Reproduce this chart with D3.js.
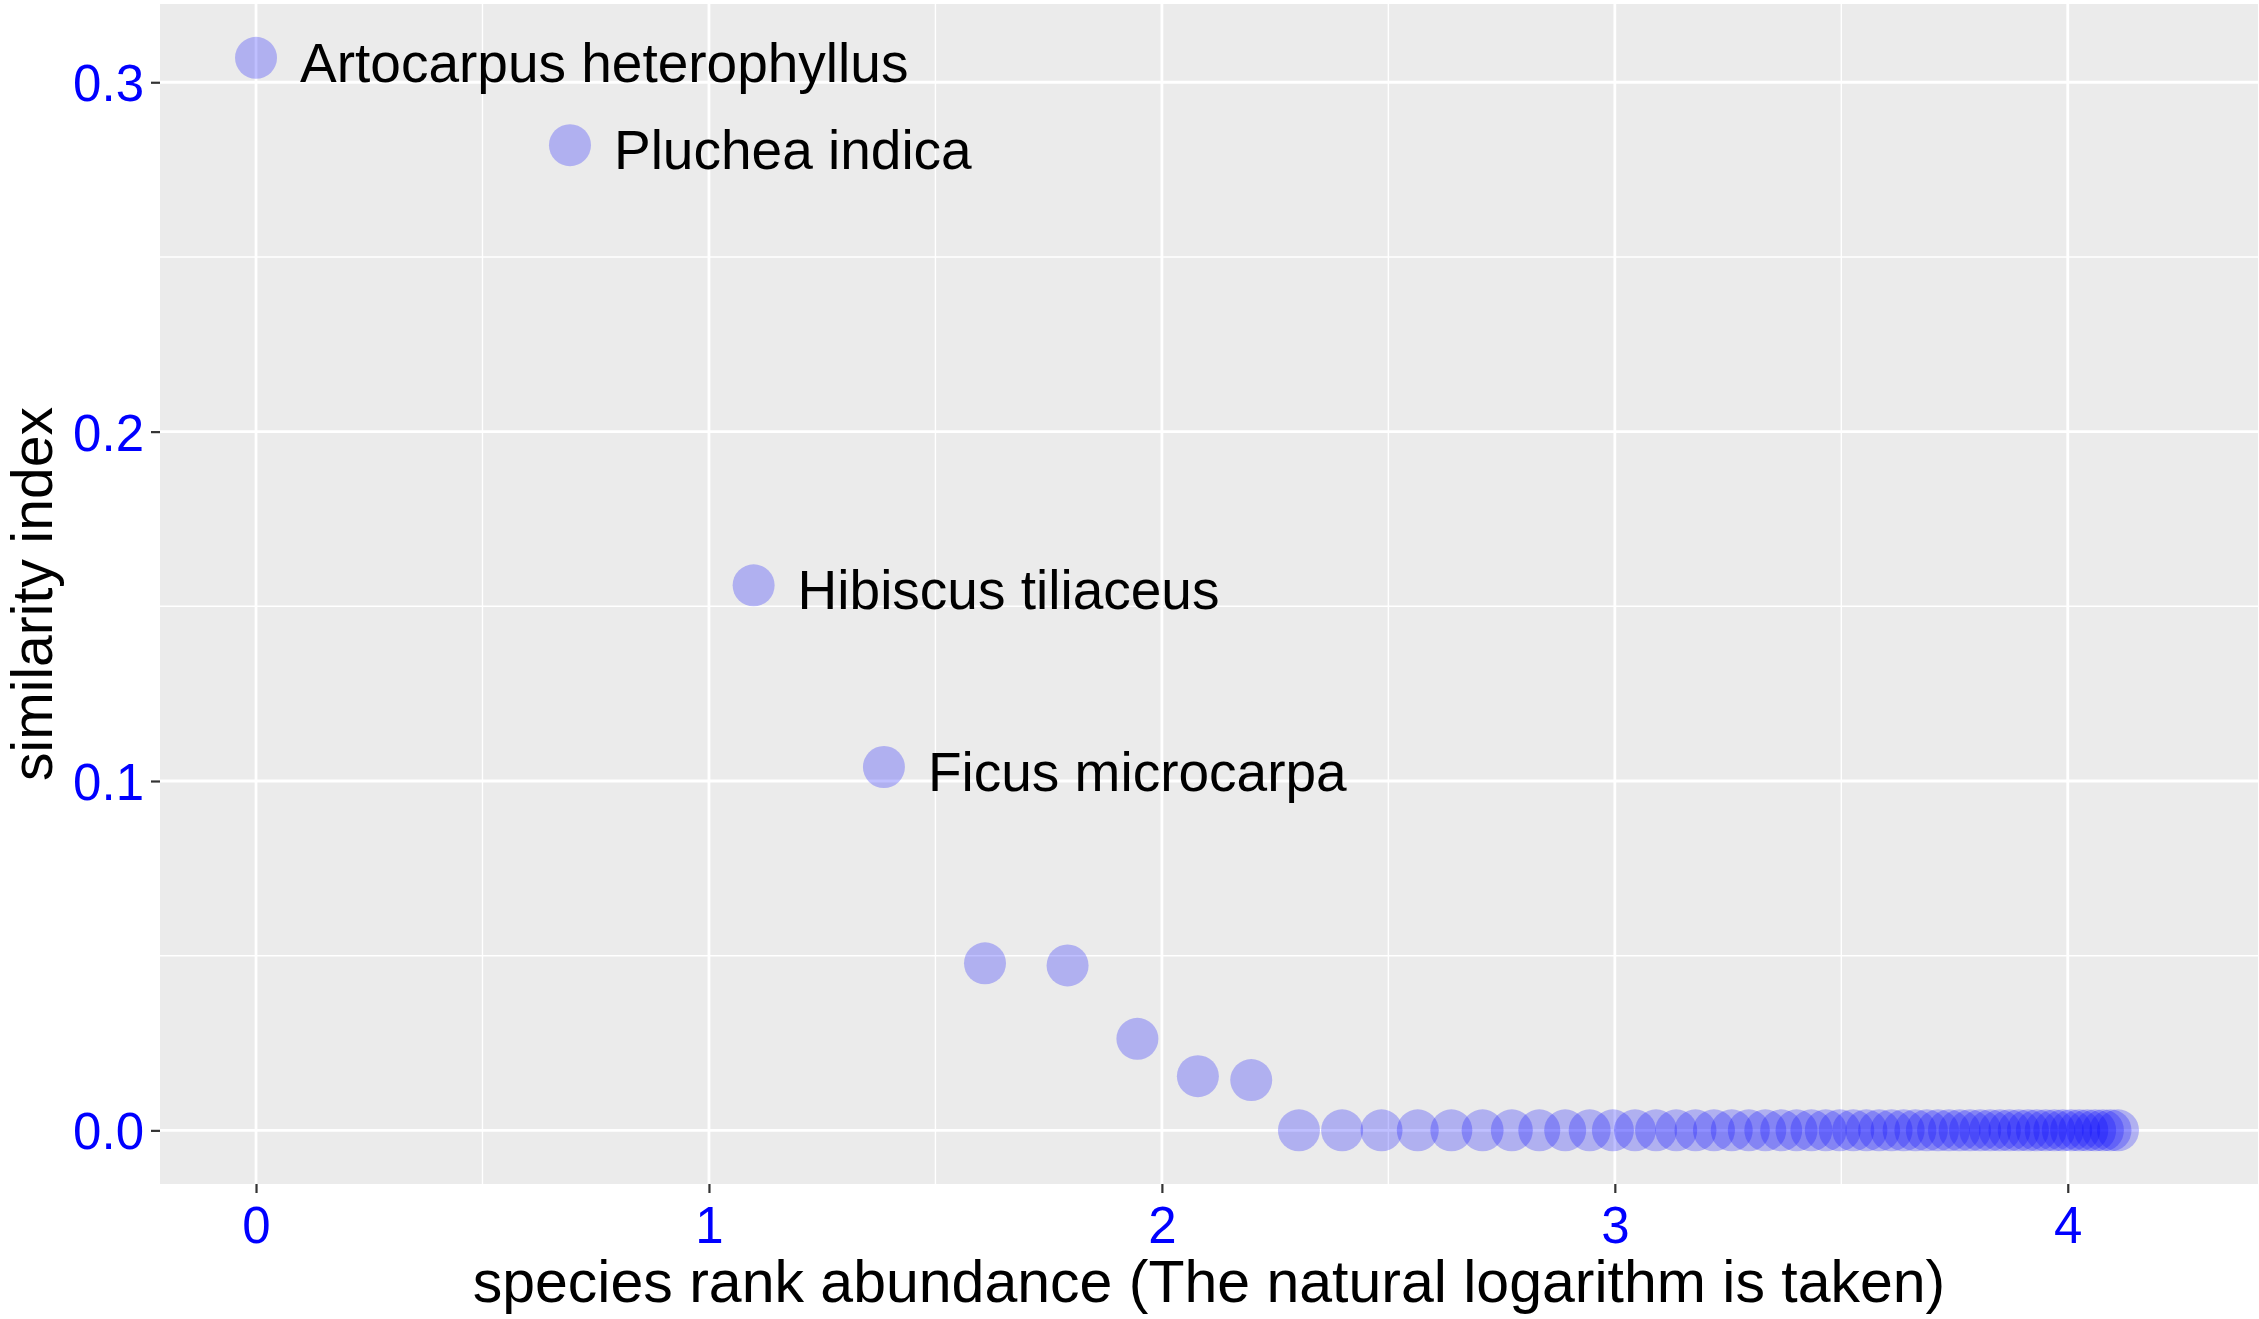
<!DOCTYPE html>
<html>
<head>
<meta charset="utf-8">
<script src="https://cdn.jsdelivr.net/npm/d3@7"></script>
<style>
  body { margin: 0; background: #fff; }
  svg { display: block; font-family: "Liberation Sans", Arial, sans-serif; }
</style>
</head>
<body>
<svg id="chart"></svg>
<script>
// species rank (1 = most abundant) and similarity index
const ranks = [
    1, 2, 3, 4, 5, 6, 7, 8, 9, 10,
    11, 12, 13, 14, 15, 16, 17, 18, 19, 20,
    21, 22, 23, 24, 25, 26, 27, 28, 29, 30,
    31, 32, 33, 34, 35, 36, 37, 38, 39, 40,
    41, 42, 43, 44, 45, 46, 47, 48, 49, 50,
    51, 52, 53, 54, 55, 56, 57, 58, 59, 60, 61
];
const similarity = [
    0.307, 0.282, 0.156, 0.104, 0.0478, 0.0472, 0.0262, 0.0155, 0.0144, 0,
    0, 0, 0, 0, 0, 0, 0, 0, 0, 0,
    0, 0, 0, 0, 0, 0, 0, 0, 0, 0,
    0, 0, 0, 0, 0, 0, 0, 0, 0, 0,
    0, 0, 0, 0, 0, 0, 0, 0, 0, 0,
    0, 0, 0, 0, 0, 0, 0, 0, 0, 0, 0
];
const labels = ['Artocarpus heterophyllus', 'Pluchea indica', 'Hibiscus tiliaceus', 'Ficus microcarpa'];

const xTicks = [0, 1, 2, 3, 4];
const xMinor = [0.5, 1.5, 2.5, 3.5];
const yTicks = [0, 0.1, 0.2, 0.3];
const yMinor = [0.05, 0.15, 0.25];

const fullWidth = 2259;
const fullHeight = 1319;
const panel = {left: 160, right: 2258, top: 4, bottom: 1184};

const data = ranks.map((r, i) => ({
    x: Math.log(r),
    y: similarity[i],
    label: labels[i] || null
}));

const x = d3.scaleLinear()
    .domain([-0.212, 4.42])
    .range([panel.left, panel.right]);

const y = d3.scaleLinear()
    .domain([-0.01535, 0.3224])
    .range([panel.bottom, panel.top]);

const svg = d3.select('#chart')
    .attr('width', fullWidth)
    .attr('height', fullHeight);

svg.append('rect')
    .attr('x', panel.left)
    .attr('y', panel.top)
    .attr('width', panel.right - panel.left)
    .attr('height', panel.bottom - panel.top)
    .attr('fill', '#ebebeb');

const grid = svg.append('g').attr('class', 'grid');

grid.selectAll('.minor-x').data(xMinor)
    .enter().append('line')
        .attr('x1', d => x(d)).attr('x2', d => x(d))
        .attr('y1', panel.top).attr('y2', panel.bottom)
        .attr('stroke', '#fff').attr('stroke-width', 1.4);

grid.selectAll('.minor-y').data(yMinor)
    .enter().append('line')
        .attr('x1', panel.left).attr('x2', panel.right)
        .attr('y1', d => y(d)).attr('y2', d => y(d))
        .attr('stroke', '#fff').attr('stroke-width', 1.4);

grid.selectAll('.major-x').data(xTicks)
    .enter().append('line')
        .attr('x1', d => x(d)).attr('x2', d => x(d))
        .attr('y1', panel.top).attr('y2', panel.bottom)
        .attr('stroke', '#fff').attr('stroke-width', 2.8);

grid.selectAll('.major-y').data(yTicks)
    .enter().append('line')
        .attr('x1', panel.left).attr('x2', panel.right)
        .attr('y1', d => y(d)).attr('y2', d => y(d))
        .attr('stroke', '#fff').attr('stroke-width', 2.8);

// axes
const xAxis = d3.axisBottom(x)
    .tickValues(xTicks)
    .tickFormat(d3.format('d'))
    .tickSize(9)
    .tickPadding(14);

const yAxis = d3.axisLeft(y)
    .tickValues(yTicks)
    .tickFormat(d3.format('.1f'))
    .tickSize(9)
    .tickPadding(7);

const gx = svg.append('g')
    .attr('transform', `translate(0, ${panel.bottom})`)
    .call(xAxis);

const gy = svg.append('g')
    .attr('transform', `translate(${panel.left}, 0)`)
    .call(yAxis);

[gx, gy].forEach(g => {
    g.select('.domain').remove();
    g.selectAll('.tick line').attr('stroke', '#333').attr('stroke-width', 2.2);
    g.selectAll('.tick text')
        .attr('fill', '#0000ff')
        .style('font-size', '51px')
        .style('font-family', '"Liberation Sans", Arial, sans-serif');
});
gy.selectAll('.tick text').attr('dy', '0.36em');

// points
svg.append('g').attr('class', 'points')
    .selectAll('circle').data(data)
    .enter().append('circle')
        .attr('cx', d => x(d.x))
        .attr('cy', d => y(d.y))
        .attr('r', 21)
        .attr('fill', 'rgba(0, 0, 255, 0.25)');

// species labels
svg.append('g').attr('class', 'labels')
    .selectAll('text').data(data.filter(d => d.label))
    .enter().append('text')
        .attr('x', d => x(d.x) + 44)
        .attr('y', d => y(d.y) + 24)
        .attr('fill', '#000')
        .style('font-size', '55px')
        .text(d => d.label);

// axis titles
svg.append('text')
    .attr('x', (panel.left + panel.right) / 2)
    .attr('y', 1302)
    .attr('text-anchor', 'middle')
    .attr('fill', '#000')
    .style('font-size', '59px')
    .text('species rank abundance (The natural logarithm is taken)');

svg.append('text')
    .attr('transform', `translate(52, ${(panel.top + panel.bottom) / 2}) rotate(-90)`)
    .attr('text-anchor', 'middle')
    .attr('fill', '#000')
    .style('font-size', '57px')
    .text('similarity index');
</script>
</body>
</html>
